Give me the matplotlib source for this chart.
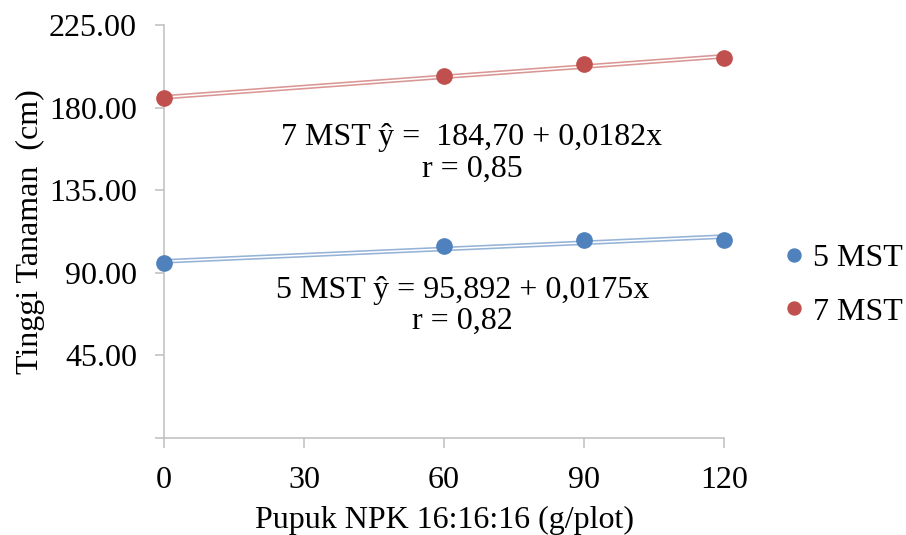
import matplotlib.pyplot as plt
import numpy as np

plt.rcParams.update({
    "font.family": ["Liberation Serif", "DejaVu Serif"],
    "font.size": 23,
})

# data
dosis = [0, 30, 60, 90, 120]
x_obs = [0, 60, 90, 120]
mst5 = [95.2, 104.4, 107.7, 108.0]
mst7 = [185.1, 197.2, 203.6, 206.8]
series = [("5 MST", mst5, "#4F81BD"), ("7 MST", mst7, "#C0504D")]
y_ticks = [0, 45, 90, 135, 180, 225]

fig = plt.figure(figsize=(9.06, 5.35), dpi=100)
ax = fig.add_axes([164 / 906, 1 - 438 / 535, 560 / 906, 413 / 535])

xs = np.array([0, 120])
for name, y, col in series:
    k, b = np.polyfit(x_obs, y, 1)
    # Excel-like double trendline
    ax.plot(xs, k * xs + b, color=col, lw=3.4, alpha=0.6, zorder=2,
            solid_capstyle="butt")
    ax.plot(xs, k * xs + b, color="white", lw=1.1, zorder=2.5,
            solid_capstyle="butt")
    ax.plot(x_obs, y, "o", color=col, ms=11, zorder=3, label=name,
            clip_on=False)

ax.set_xlim(0, 120)
ax.set_ylim(0, 225)
ax.set_xticks(dosis)
ax.set_yticks(y_ticks)
ax.set_yticklabels(["" if v == 0 else f"{v:.2f}" for v in y_ticks])

for s in ["top", "right"]:
    ax.spines[s].set_visible(False)
for s in ["left", "bottom"]:
    ax.spines[s].set_color("#BFBFBF")
    ax.spines[s].set_linewidth(1.1)
ax.tick_params(axis="both", color="#BFBFBF", width=1.1, labelsize=23)
ax.tick_params(axis="x", length=7, pad=13)
ax.tick_params(axis="y", length=6.5, pad=13)

ax.set_xlabel("Pupuk NPK 16:16:16 (g/plot)", fontsize=23, labelpad=8)
ax.set_ylabel("Tinggi Tanaman  (cm)", fontsize=23, labelpad=3)

ax.text(66, 155, "7 MST ŷ =  184,70 + 0,0182x\nr = 0,85",
        ha="center", va="center", fontsize=23, linespacing=1.1)
ax.text(64, 72, "5 MST ŷ = 95,892 + 0,0175x\nr = 0,82",
        ha="center", va="center", fontsize=23, linespacing=1.1)

ax.legend(loc="center left", bbox_to_anchor=(1.05, 0.37), frameon=False,
          handletextpad=0.0, labelspacing=0.75, fontsize=23,
          markerscale=0.85, handlelength=1.2, borderpad=0.2)

fig.savefig("out.png", dpi=100)
